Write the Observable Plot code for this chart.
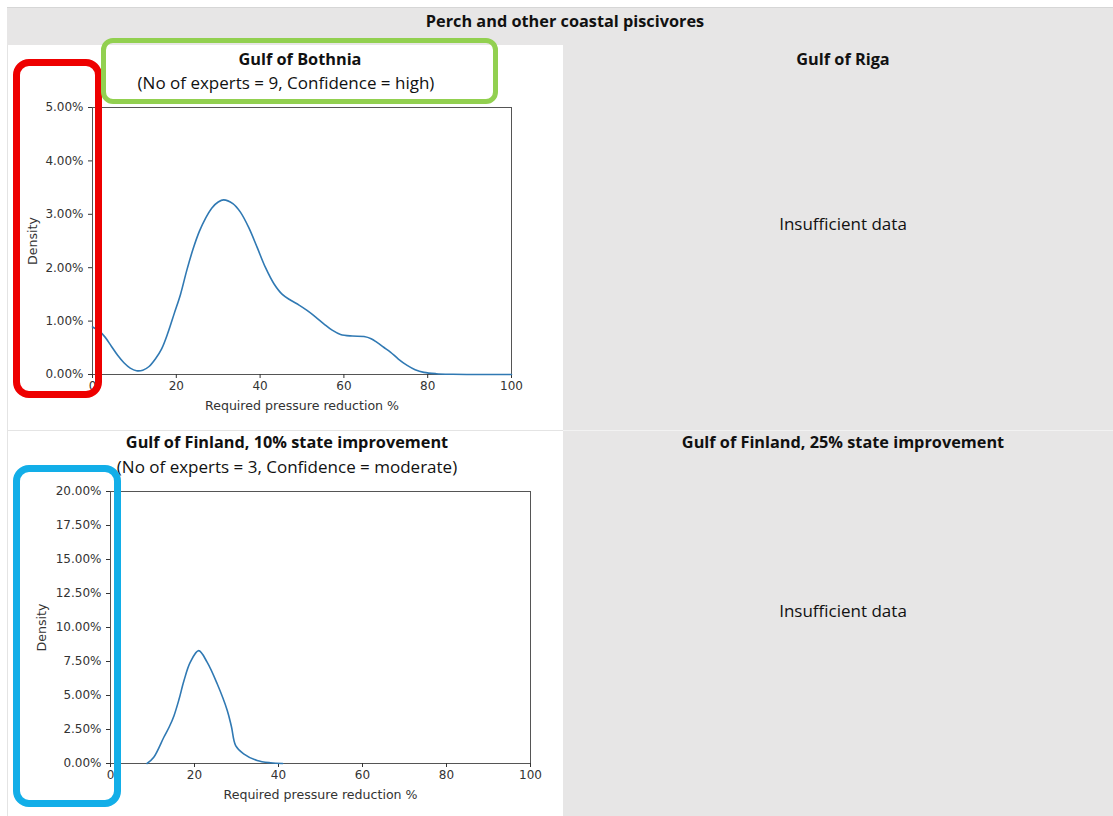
<!DOCTYPE html>
<html><head><meta charset="utf-8">
<script src="https://cdn.jsdelivr.net/npm/d3@7"></script>
<script src="https://cdn.jsdelivr.net/npm/@observablehq/plot@0.6"></script>
<style>
body{margin:0;background:#fff;}
#root{position:relative;width:1113px;height:816px;overflow:hidden;font-family:"Open Sans",sans-serif;color:#111;}
.cell{position:absolute;box-sizing:border-box;}
.gray{background:#e7e6e6;}
.t{position:absolute;transform:translate(-50%,-50%);white-space:nowrap;font-size:17px;}
.b{font-weight:bold;font-size:16.3px;}
.box{position:absolute;box-sizing:border-box;background:transparent;z-index:5;}
.chart{position:absolute;}
.chart g[aria-label="x-axis label"] text, .chart g[aria-label="y-axis label"] text{font-size:12.6px;}
</style></head><body><div id="root"></div>
<script>
// ---- data ----
const mainTitle = "Perch and other coastal piscivores";
const bothniaTitle = "Gulf of Bothnia";
const bothniaSub = "(No of experts = 9, Confidence = high)";
const rigaTitle = "Gulf of Riga";
const finland10Title = "Gulf of Finland, 10% state improvement";
const finland10Sub = "(No of experts = 3, Confidence = moderate)";
const finland25Title = "Gulf of Finland, 25% state improvement";
const noDataText = "Insufficient data";
const xLabel = "Required pressure reduction %";
const yLabel = "Density";
const xTicks = [0, 20, 40, 60, 80, 100];

const bothniaX = [0,1.5,3,4.5,6,7.5,9,10.5,12,13.5,15,16.5,18,19.5,21,22.5,24,25.5,27,28.5,30,31.3,33.5,35.3,37.3,39.3,41.3,43.3,45.3,47.3,49.3,51.2,53.2,55.2,57.2,59.2,62,64.8,66.5,67.9,69.5,71.1,73,75.1,77,79.1,82,86,92,100];
const bothniaDensity = [0.0089,0.0082,0.0070,0.0053,0.0036,0.0022,0.0012,0.0007,0.0008,0.0015,0.0029,0.0048,0.0078,0.0114,0.0150,0.0195,0.0235,0.0268,0.0293,0.0312,0.0323,0.0327,0.0320,0.0304,0.0275,0.0238,0.0200,0.0170,0.0150,0.0139,0.0130,0.0120,0.0108,0.0095,0.0083,0.0075,0.0072,0.0071,0.0067,0.0060,0.0051,0.0042,0.0029,0.0017,0.0009,0.0004,0.00015,0.00005,0.00001,0];
const bothniaYTicks = [0, 0.01, 0.02, 0.03, 0.04, 0.05];

const finland10X = [8.7,10.3,12.7,14,15.1,16.3,17.5,19,21,23,25.4,27.8,28.8,29.8,31.7,34.9,38.1,41];
const finland10Density = [0,0.0046,0.0193,0.027,0.035,0.047,0.061,0.0745,0.083,0.0745,0.0586,0.039,0.027,0.0132,0.0071,0.0022,0.0005,0];
const finland10YTicks = [0,0.025,0.05,0.075,0.1,0.125,0.15,0.175,0.2];

// ---- layout ----
const root = document.getElementById("root");
function div(cls, css, text){
  const d = document.createElement("div");
  d.className = cls; d.style.cssText = css;
  if (text != null) d.textContent = text;
  root.appendChild(d); return d;
}
div("cell gray", "left:7px;top:7px;width:1106px;height:38px;border-top:1px solid #d6d6d6;");
div("cell", "left:7px;top:45px;width:556px;height:385px;background:#fff;border-left:1px solid #e4e4e4;");
div("cell gray", "left:563px;top:45px;width:550px;height:385px;");
div("cell", "left:7px;top:430px;width:556px;height:386px;background:#fff;border-left:1px solid #e4e4e4;border-top:1px solid #e4e4e4;");
div("cell gray", "left:563px;top:430px;width:550px;height:386px;border-top:1px solid #f2f2f2;");

div("t b", "left:565px;top:21px;", mainTitle);
div("t b", "left:300px;top:59px;", bothniaTitle);
div("t", "left:286px;top:82px;", bothniaSub);
div("t b", "left:843px;top:59px;", rigaTitle);
div("t", "left:843px;top:223px;", noDataText);
div("t b", "left:287px;top:442px;", finland10Title);
div("t", "left:287px;top:466px;", finland10Sub);
div("t b", "left:843px;top:442px;", finland25Title);
div("t", "left:843px;top:610px;", noDataText);

function densityChart({xs, ys, yTicks, yMax, left, top, mL, fw, fh, yLabelOffset}){
  const mT = 8, mB = 44, mR = 16;
  const data = xs.map((x, i) => ({x, y: ys[i]}));
  const svg = Plot.plot({
    width: mL + fw + mR, height: mT + fh + mB,
    marginLeft: mL, marginRight: mR, marginTop: mT, marginBottom: mB,
    style: {fontFamily: "DejaVu Sans", fontSize: "12px", color: "#333", background: "transparent", overflow: "visible"},
    x: {domain: [0, 100]},
    y: {domain: [0, yMax]},
    marks: [
      Plot.frame({stroke: "#555"}),
      Plot.axisX({ticks: xTicks, tickSize: 4, tickPadding: 3, label: xLabel, labelAnchor: "center", labelArrow: "none", labelOffset: 35}),
      Plot.axisY({ticks: yTicks, tickFormat: d3.format(".2%"), tickSize: 4, tickPadding: 5, label: yLabel, labelAnchor: "center", labelArrow: "none", labelOffset: yLabelOffset}),
      Plot.line(data, {x: "x", y: "y", stroke: "#3079b3", strokeWidth: 1.6, curve: "catmull-rom"})
    ]
  });
  svg.classList.add("chart");
  svg.style.left = (left - mL) + "px";
  svg.style.top = (top - mT) + "px";
  root.appendChild(svg);
}

densityChart({xs: bothniaX, ys: bothniaDensity, yTicks: bothniaYTicks, yMax: 0.05, left: 92, top: 107, mL: 80, fw: 419, fh: 267, yLabelOffset: 64});
densityChart({xs: finland10X, ys: finland10Density, yTicks: finland10YTicks, yMax: 0.2, left: 110, top: 491, mL: 96, fw: 420, fh: 272, yLabelOffset: 73});

// highlight boxes
div("box", "left:13px;top:59px;width:89px;height:339px;border:7px solid #ee0000;border-radius:16px;");
div("box", "left:101px;top:38px;width:397px;height:66px;border:5px solid #92d050;border-radius:12px;");
div("box", "left:13px;top:465px;width:108px;height:342px;border:7px solid #12aee8;border-radius:16px;");
</script></body></html>
